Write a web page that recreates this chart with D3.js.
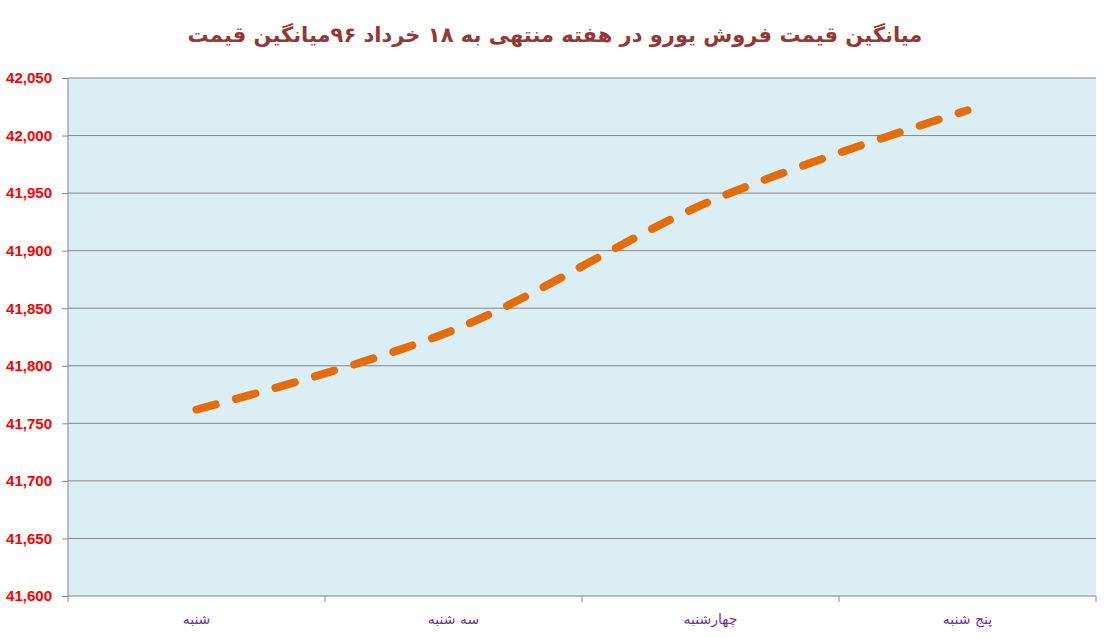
<!DOCTYPE html>
<meta charset="utf-8">
<style>
body { margin: 0; background: #fff; }
.grid line { stroke: #868686; stroke-width: 1px; }
.axis path, .axis line { stroke: #868686; }
.axis--y text { fill: #ff0000; font: bold 15px "Liberation Sans", Arial, sans-serif; }
.axis--x text { fill: #7030a0; font: 14px "DejaVu Sans", sans-serif; }
.line {
  fill: none;
  stroke: #e46c0a;
  stroke-width: 8px;
  stroke-linecap: round;
  stroke-dasharray: 20 21;
}
.title { fill: #953735; font: bold 21px "DejaVu Sans", sans-serif; }
</style>
<svg width="1106" height="638"></svg>
<script src="https://d3js.org/d3.v7.min.js"></script>
<script>
var days = ["شنبه", "سه شنبه", "چهارشنبه", "پنج شنبه"];
var prices = [41762, 41831, 41943, 42022];
var yTicks = [41600, 41650, 41700, 41750, 41800, 41850, 41900, 41950, 42000, 42050];
var title = "میانگین قیمت فروش یورو در هفته منتهی به ۱۸ خرداد ۹۶میانگین قیمت";

var svg = d3.select("svg"),
    margin = {top: 78, right: 10, bottom: 42, left: 68},
    width = +svg.attr("width") - margin.left - margin.right,
    height = +svg.attr("height") - margin.top - margin.bottom;

var x = d3.scaleBand().range([0, width]).domain(days),
    y = d3.scaleLinear().range([height, 0]).domain([41600, 42050]);

svg.append("text")
    .attr("class", "title")
    .attr("x", 555)
    .attr("y", 42)
    .attr("text-anchor", "middle")
    .text(title);

var g = svg.append("g")
    .attr("transform", "translate(" + margin.left + "," + margin.top + ")");

g.append("rect")
    .attr("width", width)
    .attr("height", height)
    .attr("fill", "#daeef3");

g.append("g")
    .attr("class", "grid")
  .selectAll("line")
  .data(yTicks.slice(1))
  .enter().append("line")
    .attr("x1", 0)
    .attr("x2", width)
    .attr("y1", function(d) { return y(d); })
    .attr("y2", function(d) { return y(d); });

g.append("g")
    .attr("class", "axis axis--y")
    .call(d3.axisLeft(y).tickValues(yTicks).tickFormat(d3.format(",")).tickSize(6).tickPadding(10))
    .call(function(a) { a.select(".domain").attr("d", "M0," + height + "V0"); });

var xAxis = g.append("g")
    .attr("class", "axis axis--x")
    .attr("transform", "translate(0," + height + ")")
    .call(d3.axisBottom(x).tickSize(0).tickPadding(18));
xAxis.select(".domain").attr("d", "M0,0H" + width);
xAxis.selectAll(".bound")
  .data(d3.range(days.length + 1))
  .enter().append("line")
    .attr("class", "bound")
    .attr("x1", function(i) { return i * x.step(); })
    .attr("x2", function(i) { return i * x.step(); })
    .attr("y1", 0)
    .attr("y2", 6);

var line = d3.line()
    .curve(d3.curveCardinal.tension(0))
    .x(function(d, i) { return x(days[i]) + x.bandwidth() / 2; })
    .y(function(d) { return y(d); });

g.append("path")
    .datum(prices)
    .attr("class", "line")
    .attr("d", line);
</script>
